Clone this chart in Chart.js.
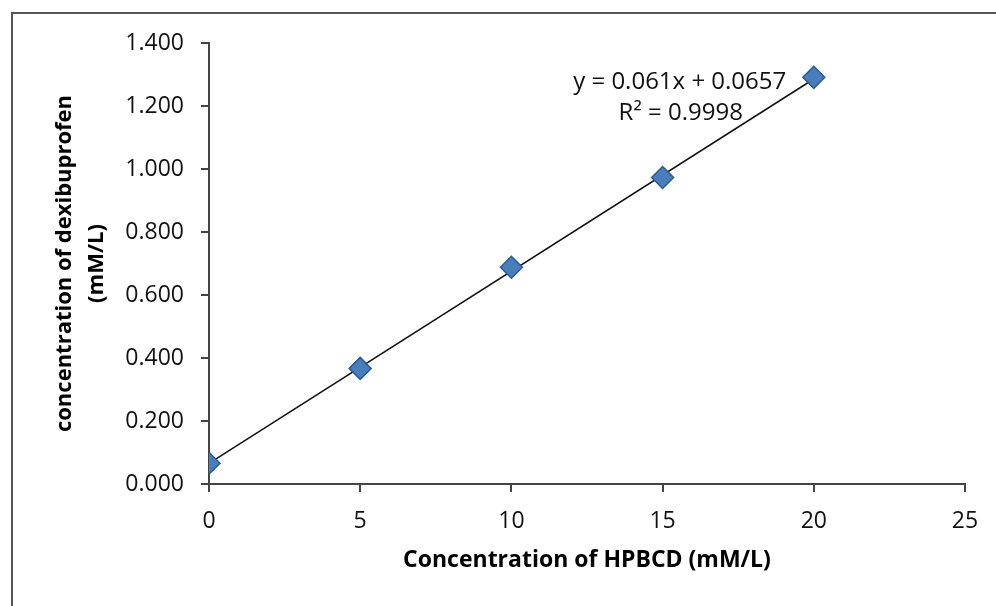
<!DOCTYPE html>
<html>
<head>
<meta charset="utf-8">
<script src="https://cdn.jsdelivr.net/npm/chart.js@4/dist/chart.umd.min.js"></script>
<style>
  html, body { margin: 0; padding: 0; background: #fff; overflow: hidden; }
  #frame {
    position: absolute; left: 11px; top: 12px;
    width: 1100px; height: 700px;
    border-left: 2px solid #555; border-top: 2px solid #555;
  }
  #wrap { position: absolute; left: 0; top: 0; width: 996px; height: 606px; }
</style>
</head>
<body>
<div id="frame"></div>
<div id="wrap"><canvas id="c"></canvas></div>
<script>
// data
const hpbcd = [0, 5, 10, 15, 20];
const dexibuprofen = [0.066, 0.367, 0.688, 0.973, 1.291];

// trendline as printed on the chart
const slope = 0.061;
const intercept = 0.0657;
const rSquared = "0.9998";
const trendX = [0, 20];

const xTicks = [0, 5, 10, 15, 20, 25];
const yTicks = [0, 0.2, 0.4, 0.6, 0.8, 1.0, 1.2, 1.4];

const eqAnchor = [15.5, 1.28];

const points = hpbcd.map((x, i) => ({ x: x, y: dexibuprofen[i] }));
const trend = trendX.map(x => ({ x: x, y: slope * x + intercept }));

// equation text
const eqLabel = {
  id: 'eqLabel',
  afterDatasetsDraw(chart) {
    const ctx = chart.ctx;
    const px = chart.scales.x.getPixelForValue(eqAnchor[0]);
    const py = chart.scales.y.getPixelForValue(eqAnchor[1]);
    ctx.save();
    ctx.fillStyle = '#111';
    ctx.font = '24px "Open Sans"';
    ctx.textAlign = 'center';
    ctx.textBaseline = 'middle';
    ctx.fillText('y = ' + slope + 'x + ' + intercept, px + 2, py + 1);
    ctx.fillText('R\u00B2 = ' + rSquared, px + 3, py + 32);
    ctx.restore();
  }
};

new Chart(document.getElementById('c'), {
  type: 'scatter',
  data: {
    datasets: [
      {
        data: trend,
        showLine: true,
        borderColor: '#111',
        borderWidth: 1.5,
        pointRadius: 0,
        order: 2
      },
      {
        data: points,
        pointStyle: 'rectRot',
        pointRadius: 11,
        backgroundColor: '#4a7ebb',
        borderColor: '#2c5a92',
        borderWidth: 1.5,
        order: 1
      }
    ]
  },
  options: {
    responsive: true,
    maintainAspectRatio: false,
    animation: false,
    layout: { padding: { top: 43, right: 31, left: 0, bottom: 0 } },
    plugins: { legend: { display: false }, tooltip: { enabled: false } },
    scales: {
      x: {
        type: 'linear',
        min: 0, max: 25,
        afterBuildTicks: s => { s.ticks = xTicks.map(v => ({ value: v })); },
        afterFit: s => { s.height = 122; },
        border: { color: '#444', width: 2 },
        grid: { drawOnChartArea: false, tickLength: 8, color: '#444', lineWidth: 2 },
        ticks: {
          color: '#111',
          padding: 16,
          maxRotation: 0,
          font: { family: '"Open Sans"', size: 23 }
        },
        title: {
          display: true,
          text: 'Concentration of HPBCD (mM/L)',
          color: '#000',
          font: { family: '"Open Sans"', size: 23, weight: 'bold', lineHeight: 1.2 },
          padding: { top: 0, bottom: 32 }
        }
      },
      y: {
        type: 'linear',
        min: 0, max: 1.4,
        afterBuildTicks: s => { s.ticks = yTicks.map(v => ({ value: v })); },
        afterFit: s => { s.width = 209; },
        border: { color: '#444', width: 2 },
        grid: { drawOnChartArea: false, tickLength: 8, color: '#444', lineWidth: 2 },
        ticks: {
          color: '#111',
          padding: 17,
          font: { family: '"Open Sans"', size: 23 },
          callback: v => v.toFixed(3)
        },
        title: {
          display: true,
          text: ['concentration of dexibuprofen', '(mM/L)'],
          color: '#000',
          font: { family: '"Open Sans"', size: 22, weight: 'bold', lineHeight: 1.45 },
          padding: { top: 49, bottom: 0 }
        }
      }
    }
  },
  plugins: [eqLabel]
});
</script>
</body>
</html>
